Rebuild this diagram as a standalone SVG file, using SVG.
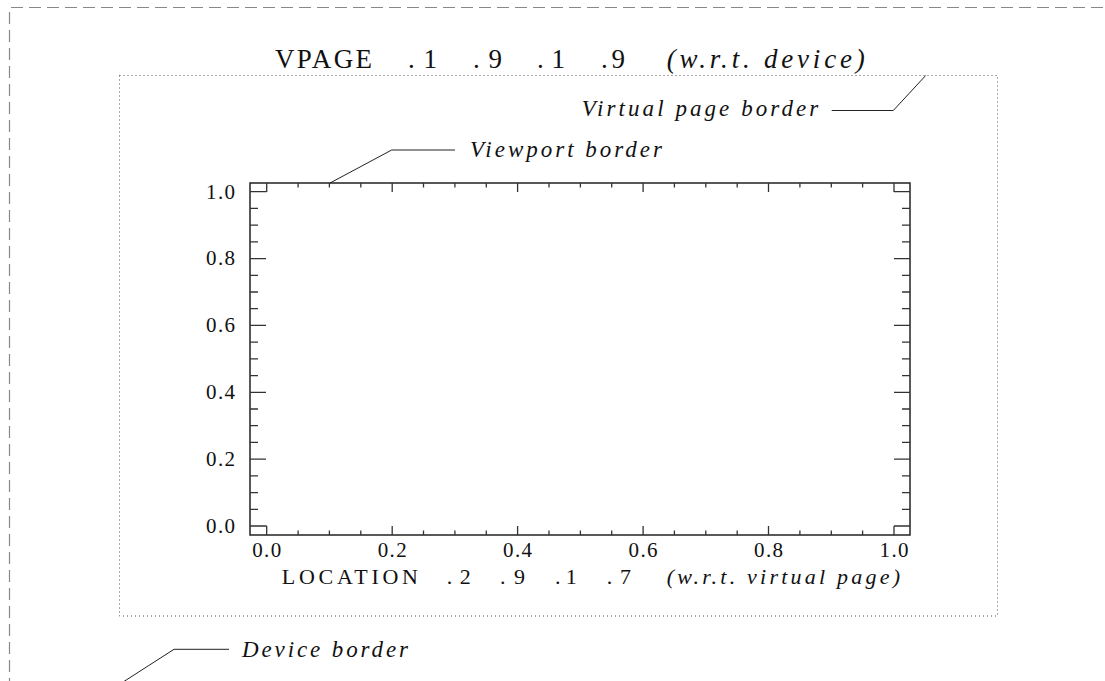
<svg xmlns="http://www.w3.org/2000/svg" width="1105" height="681" viewBox="0 0 1105 681">
<style>
.dev{fill:none;stroke:#888;stroke-width:1.2;stroke-dasharray:12 6}
.vp{fill:none;stroke:#555;stroke-width:1;stroke-dasharray:1 3}
.frame{fill:none;stroke:#222;stroke-width:1.5}
.tick{fill:none;stroke:#333;stroke-width:1.3}
.lead{fill:none;stroke:#222;stroke-width:1}
.rm{font-family:"Liberation Serif","Times New Roman",serif;fill:#111}
.it{font-family:"Liberation Serif","Times New Roman",serif;font-style:italic;fill:#111}
.num{font-size:21px}
.big{font-size:27px}
.mid{font-size:22px}
.lab{font-size:23px}
</style>
<rect width="1105" height="681" fill="#fff"/>
<g id="device-border">
<path class="dev" d="M9.5 690V7.5H1110"/>
<text class="it lab" x="242" y="657" textLength="166" lengthAdjust="spacing">Device border</text>
</g>
<g id="virtual-page">
<rect class="vp" x="119.5" y="75.5" width="878" height="540.5"/>
<text class="it lab" x="581.7" y="116" textLength="236.6" lengthAdjust="spacing">Virtual page border</text>
</g>
<g id="title">
<text class="rm big" x="275" y="68" textLength="97" lengthAdjust="spacing">VPAGE</text>
<text class="rm big" x="408" y="68" textLength="29" lengthAdjust="spacing">.1</text>
<text class="rm big" x="473" y="68" textLength="29" lengthAdjust="spacing">.9</text>
<text class="rm big" x="537" y="68" textLength="28" lengthAdjust="spacing">.1</text>
<text class="rm big" x="601" y="68" textLength="24" lengthAdjust="spacing">.9</text>
<text class="it big" x="666.7" y="68" textLength="198" lengthAdjust="spacing">(w.r.t. device)</text>
</g>
<g id="viewport">
<rect class="frame" x="250" y="183" width="660" height="352"/>
<path class="tick" d="M298.1 183v4.5M329.4 183v4.5M360.8 183v4.5M423.5 183v4.5M454.9 183v4.5M486.3 183v4.5M549 183v4.5M580.4 183v4.5M611.7 183v4.5M674.4 183v4.5M705.8 183v4.5M737.2 183v4.5M799.9 183v4.5M831.3 183v4.5M862.6 183v4.5
M266.7 183v9M392.2 183v9M517.6 183v9M643.1 183v9M768.5 183v9M894 183v9
M298.1 535v-4.5M329.4 535v-4.5M360.8 535v-4.5M423.5 535v-4.5M454.9 535v-4.5M486.3 535v-4.5M549 535v-4.5M580.4 535v-4.5M611.7 535v-4.5M674.4 535v-4.5M705.8 535v-4.5M737.2 535v-4.5M799.9 535v-4.5M831.3 535v-4.5M862.6 535v-4.5
M266.7 535v-9M392.2 535v-9M517.6 535v-9M643.1 535v-9M768.5 535v-9M894 535v-9
M250 509.3h8M250 492.6h8M250 475.9h8M250 442.4h8M250 425.7h8M250 409h8M250 375.6h8M250 358.9h8M250 342.1h8M250 308.7h8M250 292h8M250 275.3h8M250 241.8h8M250 225.1h8M250 208.4h8
M250 526h16.7M250 459.1h16M250 392.3h16M250 325.4h16M250 258.6h16M250 191.7h16.7
M910 509.3h-8M910 492.6h-8M910 475.9h-8M910 442.4h-8M910 425.7h-8M910 409h-8M910 375.6h-8M910 358.9h-8M910 342.1h-8M910 308.7h-8M910 292h-8M910 275.3h-8M910 241.8h-8M910 225.1h-8M910 208.4h-8
M910 526h-16M910 459.1h-16M910 392.3h-16M910 325.4h-16M910 258.6h-16M910 191.7h-16"/>
<text class="rm num" x="206" y="198.5" textLength="29" lengthAdjust="spacing">1.0</text>
<text class="rm num" x="206" y="265.4" textLength="29" lengthAdjust="spacing">0.8</text>
<text class="rm num" x="206" y="332.2" textLength="29" lengthAdjust="spacing">0.6</text>
<text class="rm num" x="206" y="399.1" textLength="29" lengthAdjust="spacing">0.4</text>
<text class="rm num" x="206" y="465.9" textLength="29" lengthAdjust="spacing">0.2</text>
<text class="rm num" x="206" y="532.8" textLength="29" lengthAdjust="spacing">0.0</text>
<text class="rm num" x="252.2" y="557" textLength="29" lengthAdjust="spacing">0.0</text>
<text class="rm num" x="377.7" y="557" textLength="29" lengthAdjust="spacing">0.2</text>
<text class="rm num" x="503.1" y="557" textLength="29" lengthAdjust="spacing">0.4</text>
<text class="rm num" x="628.6" y="557" textLength="29" lengthAdjust="spacing">0.6</text>
<text class="rm num" x="754" y="557" textLength="29" lengthAdjust="spacing">0.8</text>
<text class="rm num" x="879.5" y="557" textLength="29" lengthAdjust="spacing">1.0</text>
<text class="it lab" x="470" y="157" textLength="192" lengthAdjust="spacing">Viewport border</text>
</g>
<g id="location">
<text class="rm mid" x="281.7" y="584" textLength="136.3" lengthAdjust="spacing">LOCATION</text>
<text class="rm mid" x="446.7" y="584" textLength="24" lengthAdjust="spacing">.2</text>
<text class="rm mid" x="500" y="584" textLength="25" lengthAdjust="spacing">.9</text>
<text class="rm mid" x="555" y="584" textLength="21.7" lengthAdjust="spacing">.1</text>
<text class="rm mid" x="606.7" y="584" textLength="24.3" lengthAdjust="spacing">.7</text>
<text class="it mid" x="666.7" y="584" textLength="233.3" lengthAdjust="spacing">(w.r.t. virtual page)</text>
</g>
<g id="connectors">
<path class="lead" d="M831.7 110.5H893.3L925.7 75.5"/>
<path class="lead" d="M455 150H391.7L330 183"/>
<path class="lead" d="M229 649.3H174L120 684"/>
</g>
</svg>
